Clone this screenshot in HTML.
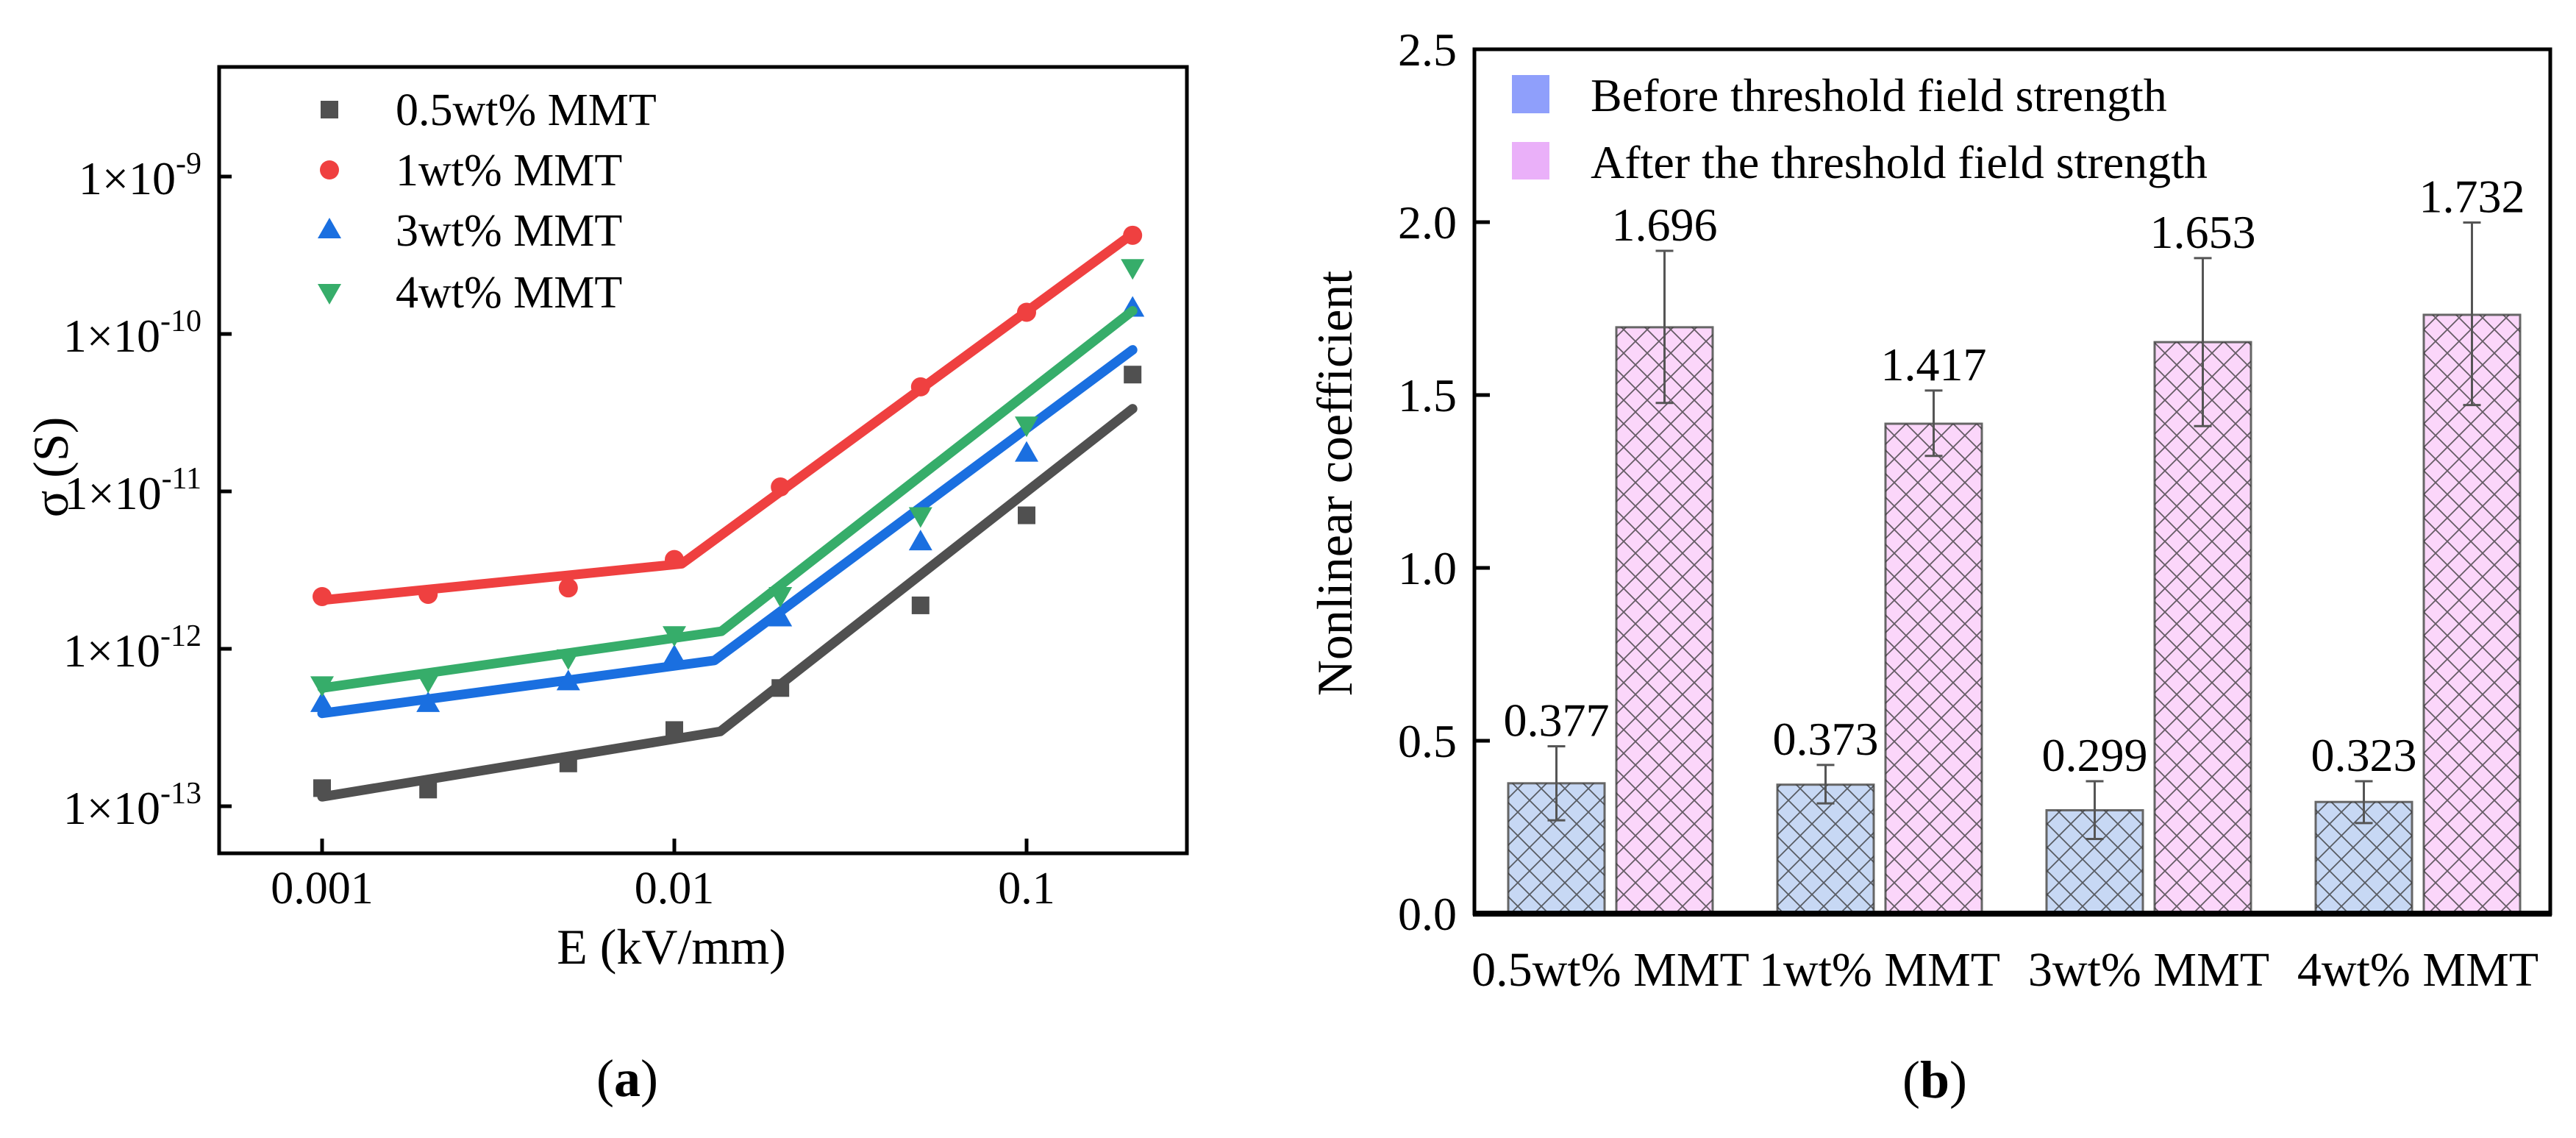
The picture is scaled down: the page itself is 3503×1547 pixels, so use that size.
<!DOCTYPE html>
<html><head><meta charset="utf-8"><style>
html,body{margin:0;padding:0;background:#fff;}
svg, svg text{font-family:"Liberation Serif",serif;}
svg{display:block;}
</style></head><body>
<svg id="fig" width="3503" height="1547" viewBox="0 0 3503 1547" font-family="Liberation Serif, serif" xmlns="http://www.w3.org/2000/svg">
<g id="chartA"></g>
<g id="chartB"></g>
</svg>
<script>
// ---------- Chart (a) data ----------
const eValues = [0.001, 0.002, 0.005, 0.01, 0.02, 0.05, 0.1, 0.2];
const seriesNames = ["0.5wt% MMT", "1wt% MMT", "3wt% MMT", "4wt% MMT"];
const logSigma05 = [-12.885, -12.894, -12.728, -12.516, -12.249, -11.724, -11.152, -10.258];
const logSigma1 = [-11.668, -11.654, -11.613, -11.433, -10.972, -10.336, -9.862, -9.373];
const logSigma3 = [-12.35, -12.35, -12.212, -12.051, -11.806, -11.323, -10.76, -9.839];
const logSigma4 = [-12.226, -12.203, -12.055, -11.908, -11.659, -11.152, -10.576, -9.576];
const fitX05 = [0.001, 0.0135, 0.2];
const fitY05 = [-12.94, -12.525, -10.475];
const fitX1 = [0.001, 0.0105, 0.2];
const fitY1 = [-11.691, -11.46, -9.364];
const fitX3 = [0.001, 0.013, 0.2];
const fitY3 = [-12.41, -12.074, -10.101];
const fitX4 = [0.001, 0.0136, 0.2];
const fitY4 = [-12.249, -11.889, -9.853];
const xTickVals = [0.001, 0.01, 0.1];
const xTickLabels = ["0.001", "0.01", "0.1"];
const yTickExps = [-9, -10, -11, -12, -13];

// ---------- Chart (b) data ----------
const categories = ["0.5wt% MMT", "1wt% MMT", "3wt% MMT", "4wt% MMT"];
const beforeVals = [0.377, 0.373, 0.299, 0.323];
const afterVals = [1.696, 1.417, 1.653, 1.732];
const beforeErrHi = [0.484, 0.43, 0.383, 0.383];
const beforeErrLo = [0.27, 0.319, 0.216, 0.262];
const afterErrHi = [1.917, 1.513, 1.896, 1.999];
const afterErrLo = [1.477, 1.324, 1.41, 1.471];
const bTicks = [0, 0.5, 1.0, 1.5, 2.0, 2.5];

const NS = "http://www.w3.org/2000/svg";
function mk(parent, tag, attrs, text) {
  const el = document.createElementNS(NS, tag);
  for (const k in attrs) el.setAttribute(k, attrs[k]);
  if (text !== undefined) el.textContent = text;
  parent.appendChild(el);
  return el;
}

// ===== Chart A =====
const A = document.getElementById('chartA');
const ax = v => 438 + (Math.log10(v) + 3) * 479;
const ay = l => 1096 - (l + 13) * 214;
const colors = ["#505050", "#ef4040", "#1a6fe0", "#36ad6a"];
const shapes = ["square", "circle", "up", "down"];
const logData = [logSigma05, logSigma1, logSigma3, logSigma4];
const fitsX = [fitX05, fitX1, fitX3, fitX4];
const fitsY = [fitY05, fitY1, fitY3, fitY4];

function marker(parent, shape, cx, cy, color) {
  let el;
  if (shape === "square") el = mk(parent, 'rect', {x: cx - 12, y: cy - 12, width: 24, height: 24, fill: color});
  else if (shape === "circle") el = mk(parent, 'circle', {cx: cx, cy: cy, r: 13, fill: color});
  else if (shape === "up") el = mk(parent, 'polygon', {points: `${cx},${cy - 17} ${cx - 16},${cy + 11} ${cx + 16},${cy + 11}`, fill: color});
  else el = mk(parent, 'polygon', {points: `${cx},${cy + 17} ${cx - 16},${cy - 11} ${cx + 16},${cy - 11}`, fill: color});
  return el;
}

for (let s = 0; s < 4; s++) {
  const g = mk(A, 'g', {});
  
  
  const pts = fitsX[s].map((x, i) => ax(x) + ',' + ay(fitsY[s][i])).join(' ');
  const line = mk(g, 'polyline', {points: pts, fill: 'none', stroke: colors[s], 'stroke-width': 13, 'stroke-linejoin': 'round', 'stroke-linecap': 'round'});
  
  
  for (let i = 0; i < eValues.length; i++) {
    const m = marker(g, shapes[s], ax(eValues[i]), ay(logData[s][i]), colors[s]);
    
    
  }
}
const fa = mk(A, 'rect', {x: 298, y: 91, width: 1316, height: 1069, fill: 'none', stroke: '#000', 'stroke-width': 5});


for (let i = 0; i < xTickVals.length; i++) {
  const x = ax(xTickVals[i]);
  mk(A, 'line', {x1: x, y1: 1160, x2: x, y2: 1140, stroke: '#000', 'stroke-width': 5});
  const t = mk(A, 'text', {x: x, y: 1228, 'font-size': 62, 'text-anchor': 'middle'}, xTickLabels[i]);
  
  
}
for (let i = 0; i < yTickExps.length; i++) {
  const y = ay(yTickExps[i]);
  mk(A, 'line', {x1: 298, y1: y, x2: 315, y2: y, stroke: '#000', 'stroke-width': 5});
  const t = mk(A, 'text', {x: 274, y: y + 24, 'font-size': 64, 'text-anchor': 'end'});
  
  
  mk(t, 'tspan', {}, '1×10');
  mk(t, 'tspan', {'font-size': 42, dy: -28}, String(yTickExps[i]));
}
const xt = mk(A, 'text', {x: 913, y: 1310, 'font-size': 68, 'text-anchor': 'middle'}, 'E (kV/mm)');


const yt = mk(A, 'text', {x: 0, y: 0, 'font-size': 68, 'text-anchor': 'middle', transform: 'translate(92,635) rotate(-90)'}, 'σ (S)');


const lgA = mk(A, 'g', {});


const legY = [149, 231, 313, 397];
for (let s = 0; s < 4; s++) {
  const e = mk(lgA, 'g', {});
  
  
  marker(e, shapes[s], 448, legY[s], colors[s]);
  mk(e, 'text', {x: 538, y: legY[s] + 21, 'font-size': 62}, seriesNames[s]);
}
const la = mk(A, 'text', {x: 853, y: 1490, 'font-size': 72, 'text-anchor': 'middle'});


mk(la, 'tspan', {}, '(');
mk(la, 'tspan', {'font-weight': 'bold'}, 'a');
mk(la, 'tspan', {}, ')');

// ===== Chart B =====
const B = document.getElementById('chartB');
const defs = mk(B, 'defs', {});
const pat = mk(defs, 'pattern', {id: 'hatch', width: 32, height: 32, patternUnits: 'userSpaceOnUse'});
mk(pat, 'path', {d: 'M0,0 L32,32 M32,0 L0,32', stroke: '#333', 'stroke-width': 1.8, fill: 'none', opacity: 0.75});
const by = v => 1242 - v * 470;
const gx = i => 2051 + i * 366;
const barW = 131;
for (let i = 0; i < categories.length; i++) {
  const g = mk(B, 'g', {});
  
  
  const sets = [
    {v: beforeVals[i], hi: beforeErrHi[i], lo: beforeErrLo[i], x: gx(i), fill: '#c7d8f4', nm: 'bar-before'},
    {v: afterVals[i], hi: afterErrHi[i], lo: afterErrLo[i], x: gx(i) + 147, fill: '#fbd6fa', nm: 'bar-after'}
  ];
  for (const s of sets) {
    const r = mk(g, 'rect', {x: s.x, y: by(s.v), width: barW, height: by(0) - by(s.v), fill: s.fill, stroke: '#666', 'stroke-width': 3});
    
    
    mk(g, 'rect', {x: s.x, y: by(s.v), width: barW, height: by(0) - by(s.v), fill: 'url(#hatch)'});
    const cx = s.x + barW / 2;
    const eb = mk(g, 'path', {d: `M${cx},${by(s.hi)} L${cx},${by(s.lo)} M${cx - 12},${by(s.hi)} L${cx + 12},${by(s.hi)} M${cx - 12},${by(s.lo)} L${cx + 12},${by(s.lo)}`, stroke: '#555', 'stroke-width': 3, fill: 'none'});
    
    
    const vl = mk(g, 'text', {x: cx, y: by(s.hi) - 14, 'font-size': 64, 'text-anchor': 'middle'}, s.v.toFixed(3));
    
    
  }
  const cl = mk(g, 'text', {x: gx(i) + 139, y: 1340, 'font-size': 66, 'text-anchor': 'middle'}, categories[i]);
  
  
}
const fb = mk(B, 'rect', {x: 2005, y: 67, width: 1463, height: 1175, fill: 'none', stroke: '#000', 'stroke-width': 5});


mk(B, 'line', {x1: 2003, y1: 1242, x2: 3470, y2: 1242, stroke: '#000', 'stroke-width': 8});
for (let i = 0; i < bTicks.length; i++) {
  const y = by(bTicks[i]);
  mk(B, 'line', {x1: 2005, y1: y, x2: 2026, y2: y, stroke: '#000', 'stroke-width': 5});
  const t = mk(B, 'text', {x: 1981, y: y + 22, 'font-size': 64, 'text-anchor': 'end'}, bTicks[i].toFixed(1));
  
  
}
const ytb = mk(B, 'text', {x: 0, y: 0, 'font-size': 68, 'text-anchor': 'middle', transform: 'translate(1838,657) rotate(-90)'}, 'Nonlinear coefficient');


const lgB = mk(B, 'g', {});


const lb1 = mk(lgB, 'g', {});


mk(lb1, 'rect', {x: 2056, y: 102, width: 51, height: 52, fill: '#8f9ffb'});
mk(lb1, 'text', {x: 2163, y: 151, 'font-size': 64}, 'Before threshold field strength');
const lb2 = mk(lgB, 'g', {});


mk(lb2, 'rect', {x: 2056, y: 193, width: 51, height: 51, fill: '#eab0f9'});
mk(lb2, 'text', {x: 2163, y: 242, 'font-size': 64}, 'After the threshold field strength');
const lbb = mk(B, 'text', {x: 2631, y: 1492, 'font-size': 72, 'text-anchor': 'middle'});


mk(lbb, 'tspan', {}, '(');
mk(lbb, 'tspan', {'font-weight': 'bold'}, 'b');
mk(lbb, 'tspan', {}, ')');
</script>
</body></html>
